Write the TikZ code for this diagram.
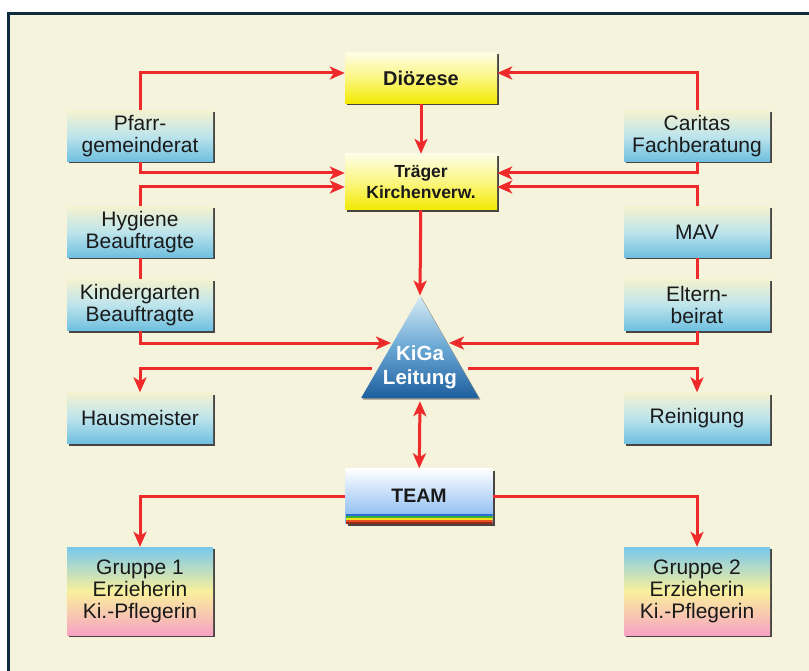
\documentclass[tikz,border=0pt]{standalone}
\usepackage{fontspec}
\setmainfont{Liberation Sans}
\usetikzlibrary{arrows.meta,shapes.geometric,shadows,calc}

\definecolor{paper}{HTML}{F6F3DC}
\definecolor{framecol}{HTML}{0F2B3E}
\definecolor{linkred}{HTML}{EE2A2A}
\definecolor{inktext}{HTML}{1A1A1A}
\definecolor{bluetop}{HTML}{F4F2CF}
\definecolor{bluemid}{HTML}{BDE4EC}
\definecolor{bluebot}{HTML}{6EBFDF}
\definecolor{yeltop}{HTML}{FEFDE6}
\definecolor{yelmid}{HTML}{FBF680}
\definecolor{yelbot}{HTML}{F2EA00}
\definecolor{tritop}{HTML}{D8ECF6}
\definecolor{trimid}{HTML}{6AA8D4}
\definecolor{tribot}{HTML}{1D5F9F}
\definecolor{grtop}{HTML}{78C7EC}
\definecolor{grmid}{HTML}{F9F09C}
\definecolor{grbot}{HTML}{F7A3C3}
\definecolor{teamblue}{HTML}{7DB4F2}
\definecolor{bandA}{HTML}{9A2A18}
\definecolor{bandB}{HTML}{E8501E}
\definecolor{bandC}{HTML}{F0E020}
\definecolor{bandD}{HTML}{3CB030}
\definecolor{bandE}{HTML}{2A6CD8}

\begin{document}
\begin{tikzpicture}[x=1pt,y=-1pt,
        >={Stealth[length=15pt,width=13pt,inset=4pt]},
        link/.style={draw=linkred,line width=3pt},
        vh/.style={to path={|- (\tikztotarget) \tikztonodes}},
        hv/.style={to path={-| (\tikztotarget) \tikztonodes}},
        box/.style={minimum width=146pt,minimum height=51pt,inner sep=0pt,align=center,
            text=inktext,font=\fontsize{21}{22}\selectfont,
            drop shadow={shadow xshift=2pt,shadow yshift=-2pt,fill=black!80,opacity=.9}},
        bluebox/.style={box,top color=bluetop,bottom color=bluebot,middle color=bluemid},
        yelbox/.style={box,minimum width=152pt,top color=yeltop,bottom color=yelbot,middle color=yelmid,
            font=\bfseries\fontsize{20}{22}\selectfont},
        grbox/.style={box,minimum height=88pt,top color=grtop,bottom color=grbot,middle color=grmid},
        teambox/.style={box,minimum width=147pt,minimum height=55pt,
            font=\bfseries\fontsize{19.5}{22}\selectfont,top color=white,bottom color=teamblue,
            path picture={
                \foreach \c [count=\i] in {bandA,bandB,bandC,bandD,bandE}
                    \fill[\c] ([yshift={(\i-1)*2pt}]path picture bounding box.south west)
                        rectangle ([yshift={\i*2pt}]path picture bounding box.south east);
            }},
        lead/.style={regular polygon,regular polygon sides=3,minimum size=136pt,inner sep=0pt,
            top color=tritop,bottom color=tribot,middle color=trimid,
            drop shadow={shadow xshift=1.5pt,shadow yshift=-1.5pt,fill=black!60,opacity=.7}}
    ]
    \useasboundingbox (0,0) rectangle (809,671);
    \clip (0,0) rectangle (809,671);
    \fill[white] (0,0) rectangle (809,671);
    \filldraw[fill=paper,draw=framecol,line width=3pt] (8.5,13.5) rectangle (840,700);

    % top
    \node[yelbox] (dio) at (421,78) {Diözese};
    \node[yelbox,minimum height=56pt,font=\bfseries\fontsize{17.5}{21}\selectfont] (trae) at (421,182)
        {Träger\\Kirchenverw.};

    % left column
    \node[bluebox] (pfarr) at (140,136) {Pfarr-\\gemeinderat};
    \node[bluebox] (hyg) at (140,232) {Hygiene\\Beauftragte};
    \node[bluebox] (kind) at (140,305) {Kindergarten\\Beauftragte};
    \node[bluebox] (haus) at (140,418) {Hausmeister};
    \node[grbox] (gr1) at (140,591) {Gruppe 1\\Erzieherin\\Ki.-Pflegerin};

    % right column
    \node[bluebox] (cari) at (697,136) {Caritas\\Fachberatung};
    \node[bluebox] (mav) at (697,232) {MAV};
    \node[bluebox] (elt) at (697,305) {Eltern-\\beirat};
    \node[bluebox] (rein) at (697,418) {Reinigung};
    \node[grbox] (gr2) at (697,591) {Gruppe 2\\Erzieherin\\Ki.-Pflegerin};

    % middle
    \node[lead,label={[yshift=-3pt,text=white,align=center,
            font=\bfseries\fontsize{20.5}{24}\selectfont]center:KiGa\\Leitung}] (tri) at (420,364) {};
    \node[teambox] (team) at (419,496) {TEAM};

    \coordinate (tri-inl) at ($(tri.center)+(-29,-21)$);
    \coordinate (tri-inr) at ($(tri.center)+(29,-21)$);
    \coordinate (tri-outl) at ($(tri.center)+(-48,4)$);
    \coordinate (tri-outr) at ($(tri.center)+(48,4)$);

    \path[link]
        (dio) edge[->] (trae)
        (trae) edge[->] (tri.corner 1)
        (hyg) edge (kind)
        (mav) edge (elt)
        (tri.side 2) edge[<->,shorten <=3pt] (team)
        (pfarr.north) edge[->,vh] ([yshift=5pt]dio.west)
        (cari.north) edge[->,vh] ([yshift=5pt]dio.east)
        (pfarr.south) edge[->,vh] ([yshift=9pt]trae.west)
        (hyg.north) edge[->,vh] ([yshift=-5pt]trae.west)
        (cari.south) edge[->,vh] ([yshift=9pt]trae.east)
        (mav.north) edge[->,vh] ([yshift=-5pt]trae.east)
        (kind.south) edge[->,vh] (tri-inl)
        (elt.south) edge[->,vh] (tri-inr)
        (tri-outl) edge[->,hv] (haus.north)
        (tri-outr) edge[->,hv] (rein.north)
        (team.west) edge[->,hv] (gr1.north)
        (team.east) edge[->,hv] (gr2.north);
\end{tikzpicture}
\end{document}
